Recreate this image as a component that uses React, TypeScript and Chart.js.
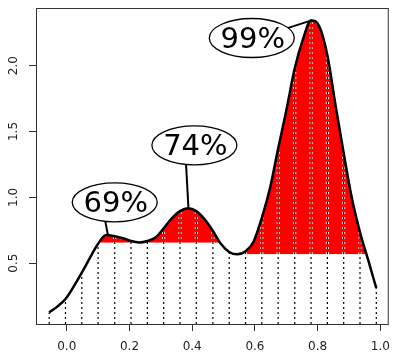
import React, { useEffect, useRef } from "react";
import { Chart, registerables } from "chart.js";

Chart.register(...registerables);

// ---- data ----
const curveX = [
  -0.056, -0.030, -0.004, 0.022, 0.048, 0.074, 0.100, 0.126, 0.153, 0.179,
  0.205, 0.231, 0.257, 0.283, 0.309, 0.335, 0.361, 0.387, 0.413, 0.439,
  0.466, 0.492, 0.518, 0.544, 0.570, 0.596, 0.622, 0.648, 0.674, 0.700,
  0.727, 0.753, 0.779, 0.805, 0.831, 0.857, 0.883, 0.909, 0.935, 0.961,
  0.987,
];
const curveY = [
  0.126, 0.170, 0.228, 0.322, 0.428, 0.540, 0.648, 0.714, 0.705, 0.690,
  0.668, 0.657, 0.668, 0.695, 0.765, 0.840, 0.895, 0.917, 0.895, 0.835,
  0.745, 0.645, 0.585, 0.567, 0.590, 0.665, 0.845, 1.070, 1.370, 1.660,
  1.980, 2.200, 2.343, 2.300, 2.080, 1.700, 1.335, 0.995, 0.735, 0.525,
  0.310,
];
// indices of the curve samples that get a dotted drop line
const dropLineIdx = [0, 2, 4, 6, 8, 10, 12, 14, 16, 18, 20, 22, 24, 26, 28, 30, 32, 34, 36, 38, 40];

// shaded bands: threshold value and curve index range
const bandThreshold = [0.655, 0.567];
const bandStart = [6, 23];
const bandEnd = [21, 39];

const xTicks = [0, 0.2, 0.4, 0.6, 0.8, 1.0];
const xTickLabels = ["0.0", "0.2", "0.4", "0.6", "0.8", "1.0"];
const yTicks = [0.5, 1.0, 1.5, 2.0];
const yTickLabels = ["0.5", "1.0", "1.5", "2.0"];

const labelText = ["69%", "74%", "99%"];
const labelX = [0.153, 0.407, 0.590];
const labelY = [0.962, 1.395, 2.210];
const pointerFromX = [0.112, 0.377, 0.590];
const pointerFromY = [0.962, 1.399, 2.198];
const pointerToX = [0.131, 0.388, 0.783];
const pointerToY = [0.715, 0.920, 2.346];

const FONT = '"DejaVu Sans", sans-serif';

const decorPlugin = {
  id: "decor",
  afterDatasetsDraw(chart: any) {
    const { ctx, chartArea, scales } = chart;
    const xs = scales.x;
    const ys = scales.y;
    ctx.save();
    // pointer lines
    ctx.strokeStyle = "#000";
    ctx.lineWidth = 2;
    ctx.lineCap = "butt";
    for (let i = 0; i < labelText.length; i++) {
      ctx.beginPath();
      ctx.moveTo(xs.getPixelForValue(pointerFromX[i]), ys.getPixelForValue(pointerFromY[i]));
      ctx.lineTo(xs.getPixelForValue(pointerToX[i]), ys.getPixelForValue(pointerToY[i]));
      ctx.stroke();
    }
    // ellipses with labels
    for (let i = 0; i < labelText.length; i++) {
      const cx = xs.getPixelForValue(labelX[i]);
      const cy = ys.getPixelForValue(labelY[i]);
      ctx.beginPath();
      ctx.ellipse(cx, cy, 42.5, 19.5, 0, 0, Math.PI * 2);
      ctx.fillStyle = "#fff";
      ctx.fill();
      ctx.lineWidth = 1.3;
      ctx.strokeStyle = "#000";
      ctx.stroke();
      ctx.fillStyle = "#000";
      ctx.font = `29px ${FONT}`;
      ctx.textAlign = "center";
      ctx.textBaseline = "middle";
      ctx.fillText(labelText[i], cx + 1, cy + 2);
    }
    // box
    ctx.strokeStyle = "#333";
    ctx.lineWidth = 1;
    ctx.strokeRect(
      chartArea.left + 0.5,
      chartArea.top + 0.5,
      chartArea.right - chartArea.left - 0.5,
      chartArea.bottom - chartArea.top
    );
    // rotated y tick labels
    ctx.fillStyle = "#222";
    ctx.font = `12px ${FONT}`;
    ctx.textAlign = "center";
    ctx.textBaseline = "middle";
    for (let i = 0; i < yTicks.length; i++) {
      const py = ys.getPixelForValue(yTicks[i]);
      ctx.save();
      ctx.translate(13.5, py);
      ctx.rotate(-Math.PI / 2);
      ctx.fillText(yTickLabels[i], 0, 0);
      ctx.restore();
    }
    ctx.restore();
  },
};

export default function App() {
  const ref = useRef<HTMLCanvasElement | null>(null);
  useEffect(() => {
    if (!ref.current) return;
    const curvePts = curveX.map((x, i) => ({ x, y: curveY[i] }));
    const dropPts: any[] = [];
    dropLineIdx.forEach((k) => {
      dropPts.push({ x: curveX[k], y: 0 });
      dropPts.push({ x: curveX[k], y: curveY[k] });
      dropPts.push({ x: curveX[k], y: null });
    });
    const bandSets = bandThreshold.map((t, b) => ({
      data: curvePts.slice(bandStart[b], bandEnd[b] + 1),
      borderWidth: 0,
      borderColor: "rgba(0,0,0,0)",
      pointRadius: 0,
      cubicInterpolationMode: "monotone",
      fill: { target: { value: t }, above: "#ff0000", below: "rgba(0,0,0,0)" },
    }));
    const chart = new Chart(ref.current, {
      type: "line",
      data: {
        datasets: [
          {
            data: curvePts,
            borderColor: "#000",
            borderWidth: 2.5,
            pointRadius: 0,
            cubicInterpolationMode: "monotone",
            fill: false,
          },
          {
            data: dropPts,
            borderColor: "#000",
            borderWidth: 1.2,
            borderDash: [2, 3],
            pointRadius: 0,
            tension: 0,
            spanGaps: false,
            fill: false,
            clip: 0,
          },
          {
            data: dropPts,
            borderColor: "#ffffff",
            borderWidth: 3,
            borderDash: [2, 3],
            pointRadius: 0,
            tension: 0,
            spanGaps: false,
            fill: false,
            clip: 0,
          },
          ...bandSets,
        ] as any,
      },
      options: {
        animation: false,
        responsive: false,
        maintainAspectRatio: false,
        events: [],
        layout: { padding: { top: 8, right: 3, left: 0, bottom: 0 } },
        plugins: {
          legend: { display: false },
          tooltip: { enabled: false },
        },
        scales: {
          x: {
            type: "linear",
            min: -0.098,
            max: 1.025,
            afterBuildTicks: (s: any) => {
              s.ticks = xTicks.map((v) => ({ value: v }));
            },
            afterFit: (s: any) => {
              s.height = 30;
            },
            grid: { drawOnChartArea: false, drawTicks: true, tickLength: 7, color: "#333", lineWidth: 1 },
            border: { display: false },
            ticks: {
              autoSkip: false,
              maxRotation: 0,
              minRotation: 0,
              padding: 9,
              color: "#222",
              font: { family: FONT, size: 12 },
              callback: (_v: any, i: number) => xTickLabels[i],
            },
          },
          y: {
            type: "linear",
            min: 0.038,
            max: 2.438,
            afterBuildTicks: (s: any) => {
              s.ticks = yTicks.map((v) => ({ value: v }));
            },
            afterFit: (s: any) => {
              s.width = 36;
            },
            grid: { drawOnChartArea: false, drawTicks: true, tickLength: 7, color: "#333", lineWidth: 1 },
            border: { display: false },
            ticks: { display: false },
          },
        },
      } as any,
      plugins: [decorPlugin],
    });
    return () => chart.destroy();
  }, []);
  return (
    <div style={{ position: "absolute", left: 0, top: 0, width: 399, height: 354, background: "#fff" }}>
      <canvas ref={ref} width={399} height={354} style={{ width: 399, height: 354, display: "block" }} />
    </div>
  );
}
